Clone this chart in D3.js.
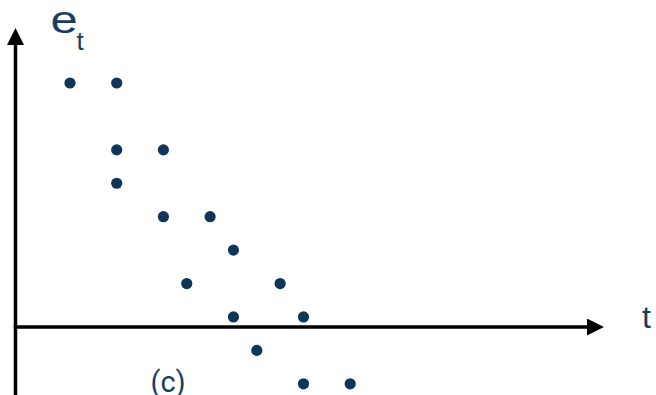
<!DOCTYPE html>
<html><head><meta charset="utf-8">
<script src="https://cdn.jsdelivr.net/npm/d3@7"></script>
<style>html,body{margin:0;padding:0;background:#fff;overflow:hidden}</style>
</head><body><svg id="c" width="656" height="395"></svg>
<script>
const tValues = [1, 3, 3, 5, 3, 5, 7, 8, 6, 10, 8, 11, 9, 11, 13];
const eValues = [7.3, 7.3, 5.3, 5.3, 4.3, 3.3, 3.3, 2.3, 1.3, 1.3, 0.3, 0.3, -0.7, -1.7, -1.7];
const labels = {y: "e", ySub: "t", x: "t", caption: "(c)"};

const svg = d3.select("#c");
const x = d3.scaleLinear().domain([0, 10]).range([46.65, 280.15]);
const y = d3.scaleLinear().domain([0, 7.3]).range([327, 83]);
const dotColor = "#0f3559", textColor = "#173d63";

const defs = svg.append("defs");
defs.append("marker").attr("id", "ah").attr("viewBox", "0 0 10 10")
  .attr("refX", 0).attr("refY", 5).attr("markerWidth", 17).attr("markerHeight", 17)
  .attr("markerUnits", "userSpaceOnUse").attr("orient", "auto")
  .append("path").attr("d", "M0,0 L10,5 L0,10 Z").attr("fill", "#000");

const ax0 = 15.5, y0 = y(0);
svg.append("line").attr("x1", ax0 - 1.75).attr("x2", 587).attr("y1", y0).attr("y2", y0)
  .attr("stroke", "#000").attr("stroke-width", 3.5).attr("marker-end", "url(#ah)");
svg.append("line").attr("x1", ax0).attr("x2", ax0).attr("y1", 395).attr("y2", 45)
  .attr("stroke", "#000").attr("stroke-width", 3.5).attr("marker-end", "url(#ah)");

svg.selectAll("circle.d").data(tValues.map((t, i) => [t, eValues[i]])).join("circle")
  .attr("class", "d").attr("cx", d => x(d[0])).attr("cy", d => y(d[1])).attr("r", 5.6)
  .attr("fill", dotColor);

const ff = "'Liberation Sans', Arial, sans-serif";
svg.append("text").attr("transform", "translate(50.5,32.5) scale(1.27,1)").attr("fill", textColor)
  .attr("font-family", ff).attr("font-size", 38.5).text(labels.y);
svg.append("text").attr("x", 76.5).attr("y", 50).attr("fill", textColor)
  .attr("font-family", ff).attr("font-size", 26).text(labels.ySub);

svg.append("text").attr("x", 642).attr("y", 328).attr("fill", textColor)
  .attr("font-family", ff).attr("font-size", 32).text(labels.x);
svg.append("text").attr("x", 150.5).attr("y", 391.5).attr("fill", textColor)
  .attr("font-family", "Roboto, sans-serif").attr("font-size", 29).text(labels.caption);
</script></body></html>
